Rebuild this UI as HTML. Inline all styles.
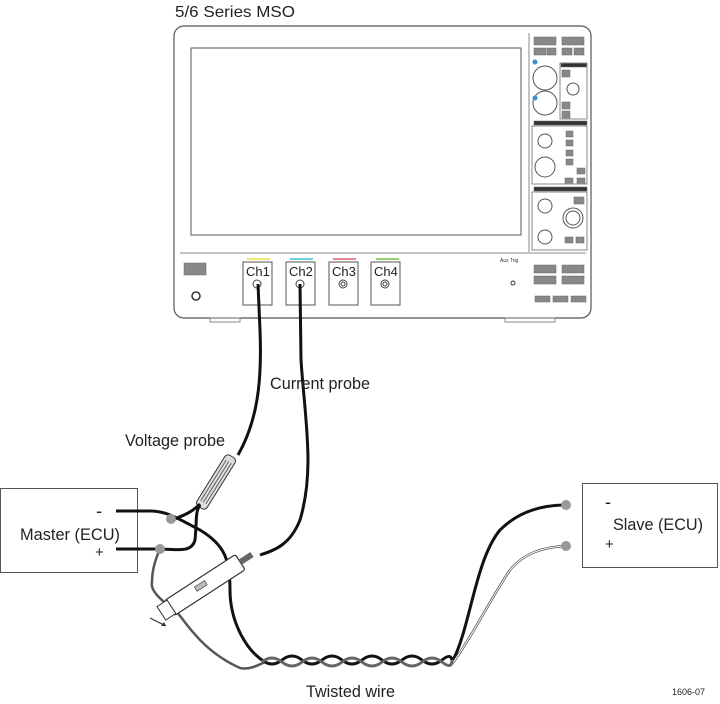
<!DOCTYPE html>
<html><head><style>
html,body{margin:0;padding:0;background:#fff;}
svg{display:block;font-family:"Liberation Sans",Arial,sans-serif;}
</style></head><body>
<svg width="720" height="704" viewBox="0 0 720 704" xmlns="http://www.w3.org/2000/svg">
<text x="175" y="17" font-size="16" fill="#222" textLength="120" lengthAdjust="spacingAndGlyphs">5/6 Series MSO</text>
<!-- scope -->
<rect x="174" y="26" width="417" height="292" rx="10" fill="#fff" stroke="#555" stroke-width="1.2"/>
<rect x="210" y="318" width="30" height="4" fill="none" stroke="#888"/>
<rect x="505" y="318" width="50" height="4" fill="none" stroke="#888"/>
<rect x="191" y="48" width="330" height="187" fill="#fff" stroke="#555"/>
<line x1="529" y1="33" x2="529" y2="252" stroke="#888"/>
<line x1="180" y1="253" x2="586" y2="253" stroke="#888"/>
<!-- right panel -->
<g fill="#888" stroke="#666" stroke-width="0.5">
<rect x="534" y="37" width="22" height="8"/><rect x="562" y="37" width="22" height="8"/>
<rect x="534" y="48" width="12" height="7"/><rect x="547" y="48" width="9" height="7"/><rect x="562" y="48" width="10" height="7"/><rect x="574" y="48" width="10" height="7"/>
<rect x="561" y="63" width="26" height="4" fill="#333"/>
<rect x="534" y="121" width="53" height="4" fill="#333"/>
<rect x="534" y="187" width="53" height="4" fill="#333"/>
<rect x="562" y="70" width="8" height="7"/><rect x="562" y="102" width="8" height="7"/><rect x="562" y="111" width="8" height="7"/>
<rect x="566" y="131" width="7" height="6"/><rect x="566" y="140" width="7" height="6"/><rect x="566" y="150" width="7" height="6"/><rect x="566" y="159" width="7" height="6"/>
<rect x="577" y="168" width="8" height="6"/><rect x="565" y="178" width="8" height="6"/><rect x="577" y="178" width="8" height="6"/>
<rect x="574" y="197" width="10" height="7"/>
<rect x="565" y="237" width="8" height="6"/><rect x="576" y="237" width="8" height="6"/>
<rect x="534" y="265" width="22" height="8"/><rect x="562" y="265" width="22" height="8"/>
<rect x="534" y="276" width="22" height="8"/><rect x="562" y="276" width="22" height="8"/>
<rect x="535" y="296" width="15" height="6"/><rect x="553" y="296" width="15" height="6"/><rect x="571" y="296" width="15" height="6"/>
<rect x="184" y="263" width="22" height="12"/>
</g>
<g fill="#fff" stroke="#555">
<rect x="560" y="63" width="27" height="56" fill="none" stroke="#888"/>
<rect x="532" y="126" width="55" height="58" fill="none" stroke="#888"/>
<rect x="532" y="192" width="55" height="58" fill="none" stroke="#888"/>
<circle cx="545" cy="78" r="12"/><circle cx="545" cy="103" r="12"/>
<circle cx="573" cy="89" r="6"/>
<circle cx="545" cy="141" r="7"/><circle cx="545" cy="167" r="10"/>
<circle cx="545" cy="206" r="7"/><circle cx="545" cy="237" r="7"/>
<circle cx="573" cy="218" r="10"/><circle cx="573" cy="218" r="7"/>
</g>
<circle cx="535" cy="62" r="2.5" fill="#3b8fd6"/><circle cx="535" cy="98" r="2.5" fill="#3b8fd6"/>
<circle cx="196" cy="296" r="4" fill="#fff" stroke="#333" stroke-width="1.5"/>
<circle cx="513" cy="283" r="2" fill="none" stroke="#333"/>
<text x="500" y="262" font-size="5" fill="#333">Aux Trig</text>
<!-- channels -->
<g font-size="13" fill="#222">
<rect x="243" y="262" width="29" height="43" fill="#fff" stroke="#555"/>
<rect x="286" y="262" width="29" height="43" fill="#fff" stroke="#555"/>
<rect x="329" y="262" width="29" height="43" fill="#fff" stroke="#555"/>
<rect x="371" y="262" width="29" height="43" fill="#fff" stroke="#555"/>
<line x1="247" y1="259" x2="270" y2="259" stroke="#e8e040" stroke-width="1.5"/>
<line x1="290" y1="259" x2="313" y2="259" stroke="#40c0d0" stroke-width="1.5"/>
<line x1="333" y1="259" x2="356" y2="259" stroke="#e06070" stroke-width="1.5"/>
<line x1="376" y1="259" x2="399" y2="259" stroke="#70c040" stroke-width="1.5"/>
<text x="246" y="276">Ch1</text><text x="289" y="276">Ch2</text><text x="332" y="276">Ch3</text><text x="374" y="276">Ch4</text>
<g fill="#fff" stroke="#444"><circle cx="257" cy="284" r="4"/><circle cx="300" cy="284" r="4"/><circle cx="343" cy="284" r="4"/><circle cx="385" cy="284" r="4"/><circle cx="343" cy="284" r="2"/><circle cx="385" cy="284" r="2"/></g>
</g>
<!-- probe cables -->
<g fill="none" stroke="#111" stroke-width="3">
<path d="M258 284 L260 330 C262 380 258 420 238 455"/>
<path d="M300 284 L301 360 C305 420 315 470 300 520 C290 545 275 550 260 555"/>
</g>
<!-- voltage probe -->
<g transform="translate(216,482) rotate(-58)">
<rect x="-30" y="-6" width="60" height="12" rx="4" fill="#ddd" stroke="#333"/>
<path d="M-24 -3 L24 -3 M-24 0 L24 0 M-24 3 L24 3" stroke="#555" stroke-width="0.9"/>
</g>
<!-- master/slave boxes -->
<rect x="0.5" y="488.5" width="137" height="84" fill="#fff" stroke="#555"/>
<text x="20" y="540" font-size="17" fill="#222" textLength="100" lengthAdjust="spacingAndGlyphs">Master (ECU)</text>
<text x="96" y="517" font-size="18" fill="#222">-</text>
<text x="95" y="557" font-size="15" fill="#222">+</text>
<rect x="582.5" y="483.5" width="135" height="84" fill="#fff" stroke="#555"/>
<text x="613" y="530" font-size="17" fill="#222" textLength="90" lengthAdjust="spacingAndGlyphs">Slave (ECU)</text>
<text x="605" y="508" font-size="18" fill="#222">-</text>
<text x="605" y="549" font-size="15" fill="#222">+</text>
<!-- wires -->
<g fill="none" stroke="#111" stroke-width="3">
<path d="M116 511 L152 511 C170 512 180 520 200 530 C225 545 230 560 230 590 C230 620 245 650 265 662"/>
<path d="M116 549 L160 549 C180 550 192 552 195 540 C197 520 195 512 200 505"/>
<path d="M172 520 C185 515 192 512 200 504"/>
<path d="M452 662 C470 630 475 560 500 530 C520 510 545 505 566 505"/>
</g>
<g fill="none" stroke="#555" stroke-width="2.5">
<path d="M160 549 C155 560 152 572 152 582 C150 590 160 600 175 610 C185 620 200 650 240 668 C250 670 258 665 265 662"/>
<path d="M452 664 C470 640 490 600 510 570 C525 552 545 547 566 546"/>
</g>
<g fill="none" stroke="#fff" stroke-width="1"><path d="M452 664 C470 640 490 600 510 570 C525 552 545 547 566 546"/></g>
<!-- twisted -->
<g fill="none" stroke="#111" stroke-width="3">
<path d="M262 660 q10 8 20 0 t20 0 t20 0 t20 0 t20 0 t20 0 t20 0 t20 0 t20 0 t10 2"/>
</g>
<g fill="none" stroke="#666" stroke-width="3">
<path d="M262 662 q10 -8 20 0 t20 0 t20 0 t20 0 t20 0 t20 0 t20 0 t20 0 t20 0 t10 -2"/>
</g>
<g fill="#999"><circle cx="171" cy="519" r="5"/><circle cx="160" cy="549" r="5"/><circle cx="566" cy="505" r="5"/><circle cx="566" cy="546" r="5"/></g>
<!-- current probe -->
<g transform="translate(205,585) rotate(-33)">
<rect x="-42" y="-9" width="84" height="18" rx="2" fill="#fff" stroke="#333" stroke-width="1.2"/>
<rect x="-52" y="-8" width="12" height="16" fill="#fff" stroke="#333"/>
<rect x="-10" y="-4" width="12" height="5" fill="#bbb" stroke="#333" stroke-width="0.6"/>
<rect x="42" y="-3" width="14" height="6" fill="#666"/>
</g>
<line x1="150" y1="618" x2="166" y2="626" stroke="#333" stroke-width="1.2"/>
<path d="M166 626 l-5 0 l3 -4 z" fill="#333"/>
<text x="270" y="389" font-size="17" fill="#222" textLength="100" lengthAdjust="spacingAndGlyphs">Current probe</text>
<text x="125" y="446" font-size="17" fill="#222" textLength="100" lengthAdjust="spacingAndGlyphs">Voltage probe</text>
<text x="306" y="697" font-size="17" fill="#222" textLength="89" lengthAdjust="spacingAndGlyphs">Twisted wire</text>
<text x="672" y="695" font-size="9" fill="#222">1606-07</text>
</svg>
</body></html>
